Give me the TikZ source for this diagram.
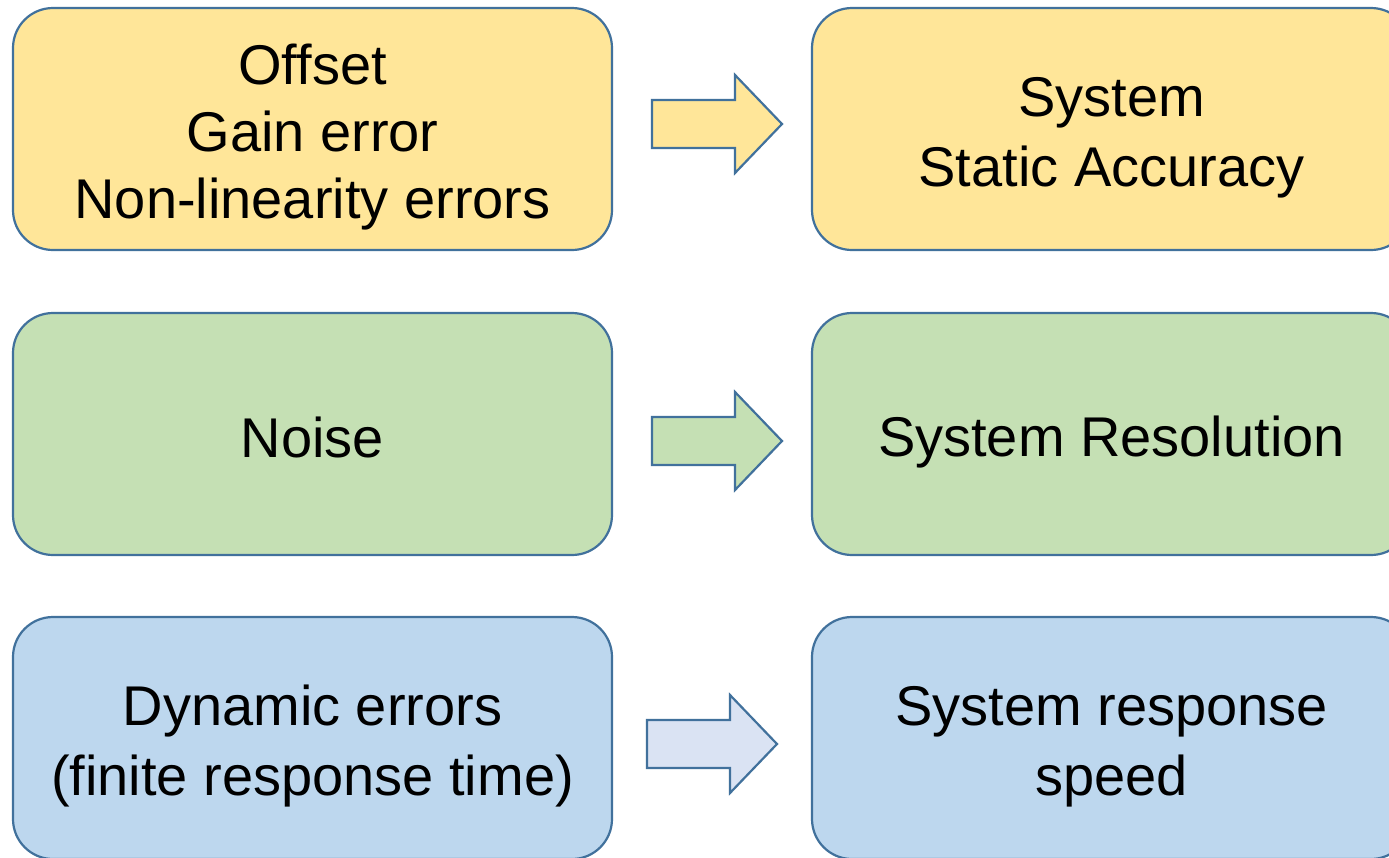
\documentclass[tikz,border=0pt]{standalone}
\usepackage{fontspec}
\setmainfont{Liberation Sans}
\definecolor{bordc}{HTML}{41719C}
\definecolor{yel}{HTML}{FFE699}
\definecolor{grn}{HTML}{C5E0B4}
\definecolor{blu}{HTML}{BDD7EE}
\definecolor{lblu}{HTML}{DAE3F3}
\newcommand\mystrut{\rule[-10.5pt]{0pt}{67pt}}
\tikzset{
  box/.style={draw=bordc, line width=2.2pt, rounded corners=40pt, minimum width=599pt, minimum height=242pt, inner sep=0pt, align=center, font=\fontsize{56}{67}\selectfont, text=black},
  blockarrow/.style={draw=bordc, line width=2.2pt, line join=miter}
}
\begin{document}
\begin{tikzpicture}[x=1pt,y=-1pt]
\useasboundingbox (0,0) rectangle (1389,857);
\fill[white] (0,0) rectangle (1389,857);
% row 1
\node[box, fill=yel] (a1) at (312.5,129) {\mystrut Offset\\\mystrut Gain error\\\mystrut Non-linearity errors};
\node[box, fill=yel] (b1) at (1111.5,129) {\mystrut System\\\mystrut Static Accuracy};
% row 2
\node[box, fill=grn] (a2) at (312.5,434) {\mystrut Noise};
\node[box, fill=grn] (b2) at (1111.5,434) {\mystrut System Resolution};
% row 3
\node[box, fill=blu] (a3) at (312.5,738) {\mystrut Dynamic errors\\\mystrut (finite response time)};
\node[box, fill=blu] (b3) at (1111.5,738) {\mystrut System response\\\mystrut speed};
% arrows
\coordinate (t1) at (782,124);
\draw[blockarrow, fill=yel] (t1) -- ++(-47,-49) -- ++(0,25) -- ++(-83,0) -- ++(0,48) -- ++(83,0) -- ++(0,25) -- cycle;
\coordinate (t2) at (782,441);
\draw[blockarrow, fill=grn] (t2) -- ++(-47,-49) -- ++(0,25) -- ++(-83,0) -- ++(0,48) -- ++(83,0) -- ++(0,25) -- cycle;
\coordinate (t3) at (777,744);
\draw[blockarrow, fill=lblu] (t3) -- ++(-47,-49) -- ++(0,25) -- ++(-83,0) -- ++(0,48) -- ++(83,0) -- ++(0,25) -- cycle;
\end{tikzpicture}
\end{document}
